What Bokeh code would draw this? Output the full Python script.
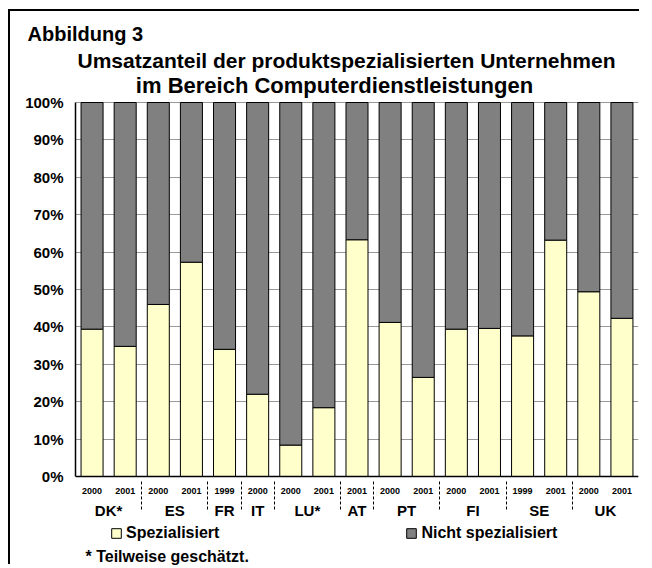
from bokeh.plotting import figure
from bokeh.models import (FactorRange, Range1d, FixedTicker, PrintfTickFormatter,
                          Legend, LegendItem, Label, ColumnDataSource)
from bokeh.embed import file_html
from bokeh.resources import INLINE

countries = ["DK*", "DK*", "ES", "ES", "FR", "IT", "LU*", "LU*", "AT",
             "PT", "PT", "FI", "FI", "SE", "SE", "UK", "UK"]
years = ["2000", "2001", "2000", "2001", "1999", "2000", "2000", "2001", "2001",
         "2000", "2001", "2000", "2001", "1999", "2001", "2000", "2001"]
spezialisiert = [39.4, 34.8, 46.0, 57.3, 34.0, 22.0, 8.4, 18.4, 63.3,
                 41.2, 26.5, 39.4, 39.6, 37.6, 63.2, 49.4, 42.3]
nicht_spezialisiert = [round(100 - v, 1) for v in spezialisiert]
y_ticks = [0, 10, 20, 30, 40, 50, 60, 70, 80, 90, 100]

factors = list(zip(countries, years))
source = ColumnDataSource(dict(x=factors, spez=spezialisiert, nicht=nicht_spezialisiert))

FONT = "Liberation Sans"

# layout constants (page pixels)
CANVAS_LEFT = 10
CANVAS_TOP = 11
FRAME_TOP = 45
FRAME_BOTTOM = 566
Y100 = 102
Y0 = 476
PX_PER_UNIT = (Y0 - Y100) / 100.0
y_hi = 100 + (Y100 - FRAME_TOP) / PX_PER_UNIT
y_lo = -(FRAME_BOTTOM - Y0) / PX_PER_UNIT

p = figure(width=634, height=FRAME_BOTTOM - CANVAS_TOP, output_backend="svg",
           toolbar_location=None,
           x_range=FactorRange(*factors, group_padding=0, factor_padding=0,
                               subgroup_padding=0, range_padding=0),
           y_range=Range1d(y_lo, y_hi),
           min_border_left=75 - CANVAS_LEFT, min_border_right=6,
           min_border_top=FRAME_TOP - CANVAS_TOP, min_border_bottom=0)
p.styles = {"transform": f"translate({CANVAS_LEFT}px, {CANVAS_TOP}px)",
            "box-shadow": "-2px -2px 0 0 black",
            "clip-path": "inset(-3px 5px -3px -3px)"}
p.outline_line_color = None
p.background_fill_color = "white"

rs = p.vbar_stack(["spez", "nicht"], x="x", width=0.665, source=source,
                  color=["#FFFFCC", "#808080"], line_color="black", line_width=1)

# grid
p.xgrid.grid_line_color = None
p.ygrid.ticker = FixedTicker(ticks=y_ticks)
p.ygrid.grid_line_color = "#999999"
p.ygrid.grid_line_width = 1

# y axis
p.yaxis.ticker = FixedTicker(ticks=y_ticks)
p.yaxis.bounds = (0, 100)
p.yaxis.formatter = PrintfTickFormatter(format="%d%%")
p.yaxis.major_label_text_font = FONT
p.yaxis.major_label_text_font_style = "bold"
p.yaxis.major_label_text_font_size = "15px"
p.yaxis.major_label_text_color = "black"
p.yaxis.major_tick_in = 0
p.yaxis.major_tick_out = 0
p.yaxis.minor_tick_line_color = None
p.yaxis.axis_line_color = "black"
p.yaxis.axis_line_width = 1.5
p.yaxis.major_label_standoff = 12

# x axis, fixed at y = 0 inside the frame
xa = p.xaxis[0]
xa.fixed_location = 0
xa.major_label_text_font = FONT
xa.major_label_text_font_style = "bold"
xa.major_label_text_font_size = "9px"
xa.major_label_text_color = "black"
xa.group_text_font = FONT
xa.group_text_font_style = "bold"
xa.group_text_font_size = "15px"
xa.group_text_color = "black"
xa.major_tick_line_color = None
xa.minor_tick_line_color = None
xa.axis_line_color = "black"
xa.axis_line_width = 1.5
xa.separator_line_color = "black"
xa.separator_line_dash = "3 2"
xa.separator_line_width = 1
xa.major_label_standoff = 5

# "Abbildung 3" as the plot title (above the frame)
p.title.text = "Abbildung 3"
p.title.align = "left"
p.title.offset = -48
p.title.text_font = FONT
p.title.text_font_size = "20px"
p.title.text_font_style = "bold"
p.title.text_color = "black"
p.title.standoff = 2

# other texts as labels (screen units, relative to the frame's bottom-left)
def lab(text, page_x, page_y, size, align="left"):
    p.add_layout(Label(text=text, x=page_x - 75, y=FRAME_BOTTOM - page_y,
                       x_units="screen", y_units="screen",
                       text_font=FONT, text_font_size=size, text_font_style="bold",
                       text_align=align, text_baseline="alphabetic",
                       text_color="black"))

lab("Umsatzanteil der produktspezialisierten Unternehmen", 346, 60, "21px", "center")
lab("im Bereich Computerdienstleistungen", 334, 85, "22px", "center")
lab("* Teilweise geschätzt.", 85, 556, "16px")

legend = Legend(items=[LegendItem(label="Spezialisiert", renderers=[rs[0]]),
                       LegendItem(label="Nicht spezialisiert", renderers=[rs[1]])],
                orientation="horizontal", spacing=186,
                location=(110 - 75, FRAME_BOTTOM - 542),
                label_text_font=FONT, label_text_font_size="16px",
                label_text_font_style="bold", label_text_color="black",
                glyph_width=12, glyph_height=12,
                label_height=16, label_standoff=4, border_line_color=None,
                background_fill_alpha=0, padding=0, margin=0)
p.add_layout(legend, "center")

open("out.html", "w").write(file_html(p, INLINE))
